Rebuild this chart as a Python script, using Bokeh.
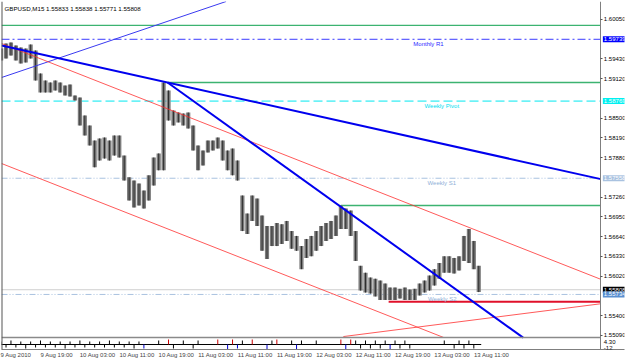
from bokeh.plotting import figure
from bokeh.models import Range1d, FixedTicker, PrintfTickFormatter, Label, Span, ColumnDataSource
from bokeh.core.properties import value
from bokeh.embed import file_html
from bokeh.resources import INLINE

FONT = "Liberation Sans"

# ---------------- data ----------------
symbol = "GBPUSD,M15"
last_ohlc = [1.55833, 1.55838, 1.55771, 1.55808]

# hourly bars, hours counted from 9 Aug 2010 11:00
bar_hours = list(range(98))
bar_high = [1.59594, 1.59673, 1.59689, 1.59642, 1.59610, 1.59594, 1.59657, 1.59563, 1.59202, 1.59092,
            1.59061, 1.59092, 1.59061, 1.59013, 1.59029, 1.58857, 1.58825, 1.58543, 1.58386, 1.58150,
            1.58182, 1.58197, 1.58150, 1.58229, 1.58229, 1.57913, 1.57572, 1.57522, 1.57475, 1.57365,
            1.57603, 1.57883, 1.57947, 1.59061, 1.58935, 1.58621, 1.58590, 1.58574, 1.58590, 1.58386,
            1.58072, 1.57993, 1.58150, 1.58150, 1.58197, 1.58150, 1.57993, 1.58024, 1.57836, 1.57287,
            1.57004, 1.57287, 1.57239, 1.56973, 1.56808, 1.56808, 1.56854, 1.56837, 1.56888, 1.56728,
            1.56653, 1.56493, 1.56605, 1.56653, 1.56728, 1.56808, 1.56854, 1.56888, 1.56973, 1.57130,
            1.57082, 1.57051, 1.56728, 1.56183, 1.56075, 1.55999, 1.55981, 1.55952, 1.55905, 1.55842,
            1.55842, 1.55822, 1.55842, 1.55811, 1.55822, 1.55905, 1.55952, 1.56030, 1.56131, 1.56227,
            1.56333, 1.56333, 1.56308, 1.56333, 1.56653, 1.56762, 1.56574, 1.56183]
bar_low = [1.59406, 1.59437, 1.59483, 1.59406, 1.59359, 1.59375, 1.59437, 1.59092, 1.58904, 1.58904,
           1.58904, 1.58935, 1.58904, 1.58857, 1.58841, 1.58778, 1.58386, 1.58229, 1.58072, 1.57729,
           1.57836, 1.57867, 1.57836, 1.57913, 1.57883, 1.57522, 1.57208, 1.57099, 1.57130, 1.57082,
           1.57208, 1.57443, 1.57682, 1.57682, 1.58464, 1.58386, 1.58434, 1.58386, 1.58338, 1.57993,
           1.57682, 1.57758, 1.57962, 1.57993, 1.58024, 1.57836, 1.57682, 1.57603, 1.57522, 1.56728,
           1.56684, 1.56888, 1.56808, 1.56418, 1.56292, 1.56493, 1.56493, 1.56527, 1.56574, 1.56450,
           1.56418, 1.56131, 1.56308, 1.56333, 1.56418, 1.56493, 1.56574, 1.56605, 1.56653, 1.56762,
           1.56762, 1.56653, 1.56261, 1.55795, 1.55764, 1.55747, 1.55703, 1.55648, 1.55648, 1.55648,
           1.55648, 1.55669, 1.55648, 1.55648, 1.55648, 1.55719, 1.55764, 1.55795, 1.55873, 1.55981,
           1.56075, 1.56075, 1.56062, 1.56109, 1.56261, 1.56227, 1.56131, 1.55771]

price_ticks = [1.60050, 1.59430, 1.59120, 1.58500, 1.58190, 1.57880, 1.57260,
               1.56950, 1.56640, 1.56330, 1.56020, 1.55400, 1.55090]

time_tick_hours = [0, 8, 16, 24, 32, 40, 48, 56, 64, 72, 80, 88, 96]
time_tick_labels = ["9 Aug 2010", "9 Aug 19:00", "10 Aug 03:00", "10 Aug 11:00", "10 Aug 19:00",
                    "11 Aug 03:00", "11 Aug 11:00", "11 Aug 19:00", "12 Aug 03:00", "12 Aug 11:00",
                    "12 Aug 19:00", "13 Aug 03:00", "13 Aug 11:00"]

level_names = ["Monthly R1", "Weekly Pivot", "Weekly S1", "Weekly S2"]
level_prices = [1.59739, 1.58769, 1.57558, 1.55734]

green_levels = [1.59956, 1.59061, 1.57130]
green_start_hours = [0.0, 33.8, 69.0]
support_level = 1.55620
support_start_hour = 78.7

# trend lines: two anchors (hour, price) each
trend_thin_blue = [(0.1, 1.59139), (28.3, 1.59877)]
trend_main_blue = [(0.1, 1.59642), (33.8, 1.59061)]
trend_steep_blue = [(33.8, 1.59061), (70.9, 1.57004)]
channel_upper = [(0.1, 1.59673), (77.0, 1.57334)]
channel_lower = [(0.1, 1.57789), (77.0, 1.55450)]
rising_red = [(69.5, 1.55073), (122.1, 1.55591)]

# lower indicator window (spikes around a zero line)
ind_hours = [0, 1, 2, 3, 4, 5, 6, 7, 8, 9, 10, 11, 12, 13, 14, 15, 16, 17, 18, 19, 20, 21, 22, 23, 24,
             25, 26, 27, 28, 29, 32, 34, 35, 37, 39, 40, 44, 46, 47, 48, 49, 51, 54, 55, 56, 59, 60,
             61, 64, 69, 70, 71, 72, 73, 74, 75, 76, 77, 78, 79, 80, 81, 82, 83, 90, 92, 93, 94, 95, 96]
ind_vals = [3, -3, 4, -3, 3, -4, 3, -3, 4, -3, 3, -3, 3, -4, 3, -3, 4, -3, 3, -3, 3, -3, 4, -3, 3,
            -3, 3, -4, 3, -4, 4, 5, -4, 4, -4, 4, 5, -5, 5, -4, 4, 5, -5, 4, 5, 4, -5,
            4, 4, 5, -5, 5, 4, -4, 4, -4, 4, -4, 4, -5, 4, -4, 4, -4, 4, -4, 4, -4, 4, -4]
ind_colors = ["black"] * 29 + ["#0000cc", "black", "#cc0000", "black", "black", "black", "black",
              "#cc0000", "#0000cc", "#cc0000", "#0000cc", "black", "#cc0000", "#0000cc", "black",
              "#cc0000", "black", "#0000cc", "black", "black", "#cc0000", "#0000cc", "#cc0000",
              "black", "black", "black", "black", "black", "black", "black", "#0000cc", "black",
              "black", "black", "black", "black", "black", "black", "black", "black", "black"]
ind_scale_labels = ["4.30", "-12"]
ind_scale_values = [2.5, -3.5]

# ---------------- layout constants ----------------
W, H = 625, 361
BORDER_L, BORDER_T, BORDER_R, BORDER_B = 1, 1, 1, 12
FRAME_W = W - BORDER_L - BORDER_R
FRAME_H = H - BORDER_T - BORDER_B
X0, X1 = 0.08, 126.6      # full frame (scale area included)
XR = 121.8                # right edge of the chart area, where the price scale sits
Y_BOTTOM, Y_TOP = 1.54870, 1.60332
PANE_LOW = 1.55057

p = figure(width=W, height=H, output_backend="svg", toolbar_location=None,
           x_range=Range1d(X0, X1), y_range=Range1d(Y_BOTTOM, Y_TOP),
           y_axis_location="right", min_border_left=BORDER_L, min_border_top=BORDER_T,
           min_border_right=BORDER_R, min_border_bottom=BORDER_B)
p.extra_y_ranges = {"ind": Range1d(-5, 343)}
p.grid.visible = False
p.background_fill_color = "white"
p.border_fill_color = "white"
p.outline_line_color = None

# axes
ya = p.yaxis[0]
ya.fixed_location = XR
ya.ticker = FixedTicker(ticks=price_ticks)
ya.formatter = PrintfTickFormatter(format="%.5f")
ya.major_label_text_font = FONT
ya.major_label_text_font_size = "6px"
ya.major_label_text_color = "black"
ya.major_tick_out = 2
ya.major_tick_in = 0
ya.minor_tick_out = 0
ya.minor_tick_in = 0
ya.major_label_standoff = 1
ya.axis_line_color = "#7f7f7f"
ya.major_tick_line_color = "#555555"

xa = p.xaxis[0]
label_centers = [h + 0.3 * len(t) for h, t in zip(time_tick_hours, time_tick_labels)]
xa.ticker = FixedTicker(ticks=label_centers)
xa.major_label_overrides = {c: t for c, t in zip(label_centers, time_tick_labels)}
xa.major_label_text_font = FONT
xa.major_label_text_font_size = "6px"
xa.major_tick_out = 0
xa.major_tick_in = 0
xa.minor_tick_out = 0
xa.minor_tick_in = 0
xa.major_label_standoff = 2
xa.axis_line_color = "#7f7f7f"

# left border of the chart window
p.add_layout(Span(location=X0, dimension="height", line_color="#555555", line_width=2))


def hline(level, x_start=X0, **kw):
    p.segment(x0=[x_start], y0=[level], x1=[XR], y1=[level], **kw)


# horizontal levels
level_colors = ["#3b3bff", "#00e8f0", "#a9c2e0", "#a9c2e0"]
level_dash = ["8 3 2 3", "9 4", "6 2 1 2 1 2", "6 2 1 2 1 2"]
for lv, c, d in zip(level_prices, level_colors, level_dash):
    hline(lv, line_color=c, line_width=1, line_dash=d)
hline(last_ohlc[3], line_color="#cfcfcf", line_width=1)

for gl, gs in zip(green_levels, green_start_hours):
    hline(gl, max(gs, X0), line_color="#3cb371", line_width=1.3)

# bars
src = ColumnDataSource(dict(h=bar_hours, hi=bar_high, lo=bar_low))
p.vbar(x="h", top="hi", bottom="lo", width=0.85, source=src, fill_color="#7c7c7c", line_color=None)
p.segment(x0="h", y0="lo", x1="h", y1="hi", source=src, line_color="#2e2e2e", line_width=1)

# support line
hline(support_level, support_start_hour, line_color="#e0102a", line_width=2)


def ray(anchors):
    (t0, p0), (t1, p1) = anchors
    k = (p1 - p0) / (t1 - t0)
    te = XR
    pe = p0 + k * (te - t0)
    if pe < PANE_LOW:
        te = t0 + (PANE_LOW - p0) / k
        pe = PANE_LOW
    if pe > Y_TOP:
        te = t0 + (Y_TOP - p0) / k
        pe = Y_TOP
    return [t0, te], [p0, pe]


for anchors, col, w in [(trend_thin_blue, "#3a3af0", 1), (channel_upper, "#ff3030", 0.8),
                        (channel_lower, "#ff3030", 0.8), (rising_red, "#ff3030", 0.8),
                        (trend_main_blue, "#0000ee", 2), (trend_steep_blue, "#0000ee", 2)]:
    xs, ys = ray(anchors)
    p.line(xs, ys, line_color=col, line_width=w)

# level names on the chart
name_hours = [86.8, 89.5, 89.5, 89.6]
name_colors = ["#2a2aff", "#00e0f0", "#8fb0d8", "#8fb0d8"]
p.text(x=name_hours, y=level_prices, text=level_names, text_color=name_colors,
       text_font=value(FONT), text_font_size="6px", text_align="center",
       text_baseline="middle", y_offset=5)

# pane separator
hline(PANE_LOW, line_color="#8a8a8a", line_width=1.5)

# indicator
p.line([0, 97.5], [0, 0], y_range_name="ind", line_color="black", line_width=1)
p.segment(x0=ind_hours, y0=[0] * len(ind_hours), x1=ind_hours, y1=ind_vals,
          y_range_name="ind", line_color=ind_colors, line_width=1)

# header text
p.add_layout(Label(x=3, y=FRAME_H - 7, x_units="screen", y_units="screen",
                   text=symbol + "  " + " ".join("%.5f" % v for v in last_ohlc),
                   text_font=FONT, text_font_size="6.2px", text_color="black",
                   text_baseline="middle"))

# price tags on the right scale
scale_sx = (XR - X0) / (X1 - X0) * FRAME_W
tags = [(level_prices[0], "#0000ff", "white"), (level_prices[1], "#00f0f0", "white"),
        (level_prices[2], "#a9c2e0", "white"), (last_ohlc[3], "black", "white"),
        (level_prices[3], "#5a8fd0", "white")]
for lv, bg, fg in tags:
    p.add_layout(Label(x=scale_sx + 2, y=lv, x_units="screen", y_units="data",
                       text="%.5f" % lv, text_font=FONT, text_font_size="6px", text_color=fg,
                       background_fill_color=bg, text_baseline="middle", padding=1))

for t, v in zip(ind_scale_labels, ind_scale_values):
    p.add_layout(Label(x=scale_sx + 3, y=v, x_units="screen", y_units="data", y_range_name="ind",
                       text=t, text_font=FONT, text_font_size="6px", text_color="black",
                       text_baseline="middle"))

open("out.html", "w").write(file_html(p, INLINE))
